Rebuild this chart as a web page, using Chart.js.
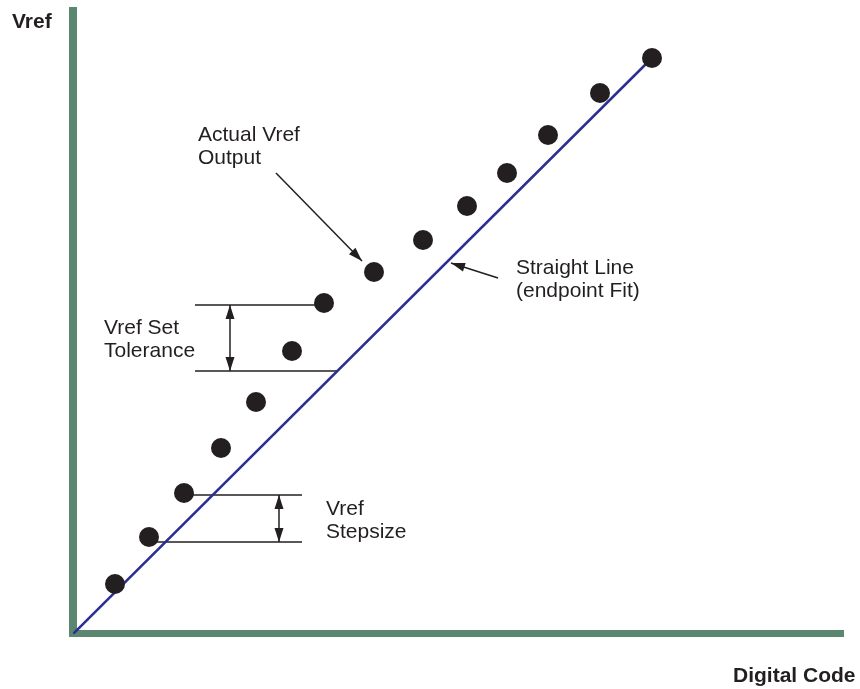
<!DOCTYPE html>
<html>
<head>
<meta charset="utf-8">
<script src="https://cdn.jsdelivr.net/npm/chart.js@4.4.1/dist/chart.umd.min.js"></script>
<style>
	body { margin: 0; background: #ffffff; }
	canvas { display: block; }
</style>
</head>
<body>
<canvas id="vrefChart" width="860" height="689"></canvas>
<script>
	const codeSteps = [4.2, 7.6, 11.1, 14.8, 18.3, 21.9, 25.1, 30.1, 35.0, 39.4, 43.4, 47.5, 52.7, 57.9];
	const vrefOutput = [5.0, 9.7, 14.1, 18.6, 23.2, 28.3, 33.1, 36.2, 39.4, 42.8, 46.1, 49.9, 54.1, 57.6];
	// endpoint fit line
	const fitCodes = [0, 57.9];
	const fitVref = [0, 57.6];

	const axisTitleX = 'Digital Code';
	const axisTitleY = 'Vref';

	(() => {
		'use strict'

		const ink = '#231f20';
		const axisGreen = '#5b8770';
		const fitBlue = '#2b2e93';
		const textFont = '21px "Liberation Sans", Arial, sans-serif';
		const boldFont = 'bold 21px "Liberation Sans", Arial, sans-serif';

		// annotation layout in data units
		const notes = [
			{ x: 12.5, y: 49.3, lines: ['Actual Vref', 'Output'] },
			{ x: 44.3, y: 36.0, lines: ['Straight Line', '(endpoint Fit)'] },
			{ x: 3.1, y: 30.0, lines: ['Vref Set', 'Tolerance'] },
			{ x: 25.3, y: 11.9, lines: ['Vref', 'Stepsize'] }
		];
		const guideLines = [
			{ x1: 12.2, x2: 24.7, y: 32.9 },
			{ x1: 12.2, x2: 26.4, y: 26.3 },
			{ x1: 11.2, x2: 22.9, y: 13.9 },
			{ x1: 7.9, x2: 22.9, y: 9.2 }
		];
		const pointers = [
			{ from: [20.3, 46.1], to: [28.9, 37.3], both: false },
			{ from: [42.5, 35.6], to: [37.8, 37.1], both: false },
			{ from: [15.7, 26.3], to: [15.7, 32.9], both: true },
			{ from: [20.6, 9.2], to: [20.6, 13.9], both: true }
		];

		function arrowHead(ctx, x1, y1, x2, y2) {
			const angle = Math.atan2(y2 - y1, x2 - x1);
			const len = 14;
			const half = 4.5;
			ctx.beginPath();
			ctx.moveTo(x2, y2);
			ctx.lineTo(x2 - len * Math.cos(angle) + half * Math.sin(angle), y2 - len * Math.sin(angle) - half * Math.cos(angle));
			ctx.lineTo(x2 - len * Math.cos(angle) - half * Math.sin(angle), y2 - len * Math.sin(angle) + half * Math.cos(angle));
			ctx.closePath();
			ctx.fill();
		}

		const diagramPlugin = {
			id: 'diagram',
			beforeDatasetsDraw(chart) {
				const ctx = chart.ctx;
				const xs = chart.scales.x;
				const ys = chart.scales.y;
				const x0 = xs.getPixelForValue(0);
				const y0 = ys.getPixelForValue(0);

				ctx.save();
				// green axes
				ctx.fillStyle = axisGreen;
				ctx.fillRect(x0 - 4, ys.getPixelForValue(62.7), 8, y0 + 3 - ys.getPixelForValue(62.7));
				ctx.fillRect(x0 - 4, y0 - 4, xs.getPixelForValue(77.1) - x0 + 4, 7);

				// guide lines
				ctx.strokeStyle = ink;
				ctx.fillStyle = ink;
				ctx.lineWidth = 1.5;
				guideLines.forEach((g) => {
					const py = ys.getPixelForValue(g.y);
					ctx.beginPath();
					ctx.moveTo(xs.getPixelForValue(g.x1), py);
					ctx.lineTo(xs.getPixelForValue(g.x2), py);
					ctx.stroke();
				});

				pointers.forEach((p) => {
					const ax = xs.getPixelForValue(p.from[0]);
					const ay = ys.getPixelForValue(p.from[1]);
					const bx = xs.getPixelForValue(p.to[0]);
					const by = ys.getPixelForValue(p.to[1]);
					ctx.beginPath();
					ctx.moveTo(ax, ay);
					ctx.lineTo(bx, by);
					ctx.stroke();
					arrowHead(ctx, ax, ay, bx, by);
					if (p.both) {
						arrowHead(ctx, bx, by, ax, ay);
					}
				});

				// labels
				ctx.font = textFont;
				ctx.textAlign = 'left';
				ctx.textBaseline = 'alphabetic';
				notes.forEach((n) => {
					const px = xs.getPixelForValue(n.x);
					const py = ys.getPixelForValue(n.y);
					n.lines.forEach((line, i) => {
						ctx.fillText(line, px, py + i * 23);
					});
				});

				ctx.font = boldFont;
				ctx.fillText(axisTitleY, 12, 28);
				ctx.fillText(axisTitleX, 733, 682);
				ctx.restore();
			}
		};

		new Chart(document.getElementById('vrefChart'), {
			type: 'scatter',
			data: {
				datasets: [
					{
						label: 'Actual Vref Output',
						data: codeSteps.map((code, i) => ({ x: code, y: vrefOutput[i] })),
						pointRadius: 10,
						pointBackgroundColor: ink,
						pointBorderWidth: 0,
						showLine: false
					},
					{
						label: 'Straight Line (endpoint Fit)',
						data: fitCodes.map((code, i) => ({ x: code, y: fitVref[i] })),
						showLine: true,
						borderColor: fitBlue,
						borderWidth: 2.5,
						pointRadius: 0
					}
				]
			},
			options: {
				responsive: false,
				animation: false,
				devicePixelRatio: 1,
				layout: {
					autoPadding: false,
					padding: { left: 73, right: 7, top: 4, bottom: 55 }
				},
				plugins: {
					legend: { display: false },
					tooltip: { enabled: false }
				},
				scales: {
					x: { type: 'linear', min: 0, max: 78, display: false },
					y: { type: 'linear', min: 0, max: 63, display: false }
				}
			},
			plugins: [diagramPlugin]
		});
	})()
</script>
</body>
</html>
